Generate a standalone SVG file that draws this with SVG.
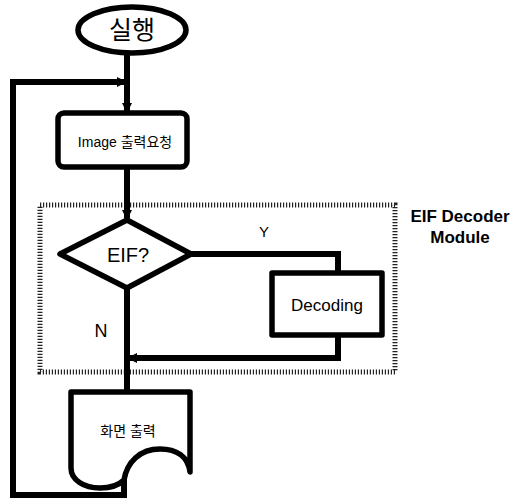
<svg xmlns="http://www.w3.org/2000/svg" width="513" height="503" viewBox="0 0 513 503">
<style>
.sh{fill:#fff;stroke:#000;stroke-width:5.5;stroke-linejoin:round}
.ln{fill:none;stroke:#000;stroke-width:6}
.t{font-family:"Liberation Sans","Noto Sans CJK KR",sans-serif;fill:#000;text-anchor:middle}
.dot{fill:none;stroke:#222;stroke-width:5;stroke-dasharray:1.2 1.8}
</style>
<defs>
<marker id="ah" markerWidth="10" markerHeight="10" refX="8" refY="5" orient="auto" markerUnits="userSpaceOnUse">
<path d="M0,0 L10,5 L0,10 Z" fill="#000"/>
</marker>
</defs>
<rect id="module" class="dot" x="40" y="205" width="355" height="167"/>
<g id="connectors">
<path class="ln" d="M127,53 V111" marker-end="url(#ah)"/>
<path class="ln" d="M127,167 V218" marker-end="url(#ah)"/>
<path class="ln" d="M191,254 H338 V273"/>
<path class="ln" d="M338,335 V358 H129" marker-end="url(#ah)"/>
<path class="ln" d="M127,288 V392"/>
<path class="ln" d="M124,478 V495 H13 V82 H125" marker-end="url(#ah)"/>
</g>
<g id="start">
<ellipse class="sh" cx="132" cy="30" rx="54" ry="23"/>
<text class="t" x="132" y="39" font-size="25">실행</text>
</g>
<g id="request">
<rect class="sh" x="58" y="113" width="129" height="54" rx="6"/>
<text class="t" x="125" y="147" font-size="14">Image 출력요청</text>
</g>
<g id="eif">
<path class="sh" d="M127,220 L191,254 L127,288 L60,254 Z"/>
<text class="t" x="128" y="262" font-size="20">EIF?</text>
</g>
<g id="decoding">
<rect class="sh" x="272" y="273" width="110" height="62"/>
<text class="t" x="327" y="311" font-size="17">Decoding</text>
</g>
<g id="output">
<path class="sh" d="M71,392 H190 V472 C188,456 176,449 160,449 C140,449 127,462 124,480 C118,486 110,488 100,488 C84,488 71,480 71,468 Z"/>
<text class="t" x="128" y="436" font-size="14">화면 출력</text>
</g>
<text class="t" x="264" y="237" font-size="15">Y</text>
<text class="t" x="101" y="337" font-size="18">N</text>
<g id="module-label">
<text class="t" x="460" y="222" font-size="17" font-weight="bold">EIF Decoder</text>
<text class="t" x="460" y="243" font-size="17" font-weight="bold">Module</text>
</g>
</svg>
